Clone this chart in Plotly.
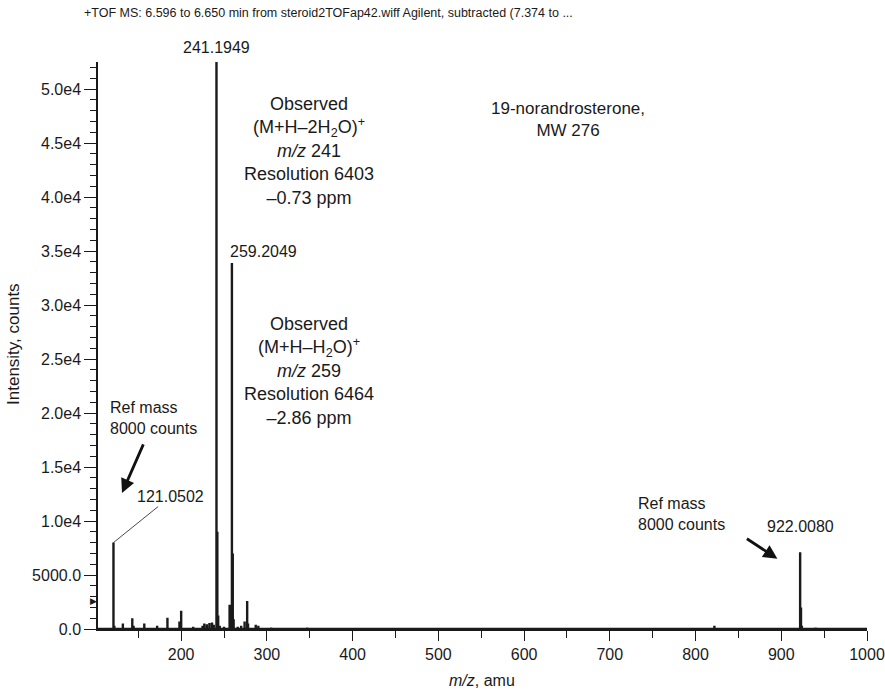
import plotly.graph_objects as go

# ---- data ----
peak_mz = [121.0502, 122.0, 132.0, 143.0, 144.5, 157.0, 172.0, 184.0, 198.0, 200.0,
           214.0, 225.0, 227.0, 230.0, 233.0, 236.0, 238.0, 241.1949, 242.2, 243.2,
           245.0, 250.0, 256.5, 259.2049, 260.2, 261.2, 266.0, 270.0, 274.0, 277.0,
           278.0, 287.0, 290.0, 822.0, 922.0080, 923.0, 924.0]
peak_int = [8000, 300, 500, 1000, 300, 500, 300, 1050, 700, 1700,
            200, 300, 500, 450, 550, 600, 400, 52500, 9000, 1250,
            300, 200, 2250, 33900, 7000, 900, 200, 300, 700, 2600,
            500, 400, 300, 300, 7100, 2000, 300]
noise_mz = [305, 318, 333, 347, 362, 380, 395, 410, 428, 445, 462, 480, 497, 515,
            533, 550, 568, 585, 603, 620, 640, 655, 672, 690, 707, 725, 742, 760,
            778, 795, 812, 840, 858, 875, 890, 905, 940, 955, 970, 985]
noise_int = [150, 120, 100, 130, 90, 110, 100, 120, 90, 100, 110, 90, 100, 120,
             90, 100, 110, 90, 100, 90, 110, 100, 90, 100, 110, 90, 100, 110,
             90, 100, 120, 110, 90, 100, 120, 110, 150, 110, 90, 100]
x_range = [103, 1000]
y_range = [0, 52500]
threshold = 2550

x_ticks = [200, 300, 400, 500, 600, 700, 800, 900, 1000]
x_ticktext = ["200", "300", "400", "500", "600", "700", "800", "900", "1000"]
y_ticks = [0, 5000, 10000, 15000, 20000, 25000, 30000, 35000, 40000, 45000, 50000]
y_ticktext = ["0.0", "5000.0", "1.0e4", "1.5e4", "2.0e4", "2.5e4", "3.0e4",
              "3.5e4", "4.0e4", "4.5e4", "5.0e4"]

title_text = "+TOF MS: 6.596 to 6.650 min from steroid2TOFap42.wiff Agilent, subtracted (7.374 to ..."

# ---- build stick spectrum ----
pts = sorted(list(zip(peak_mz, peak_int)) + list(zip(noise_mz, noise_int)))
xs = [x_range[0]]
ys = [0]
for m, h in pts:
    xs += [m, m, m]
    ys += [0, h, 0]
xs.append(x_range[1])
ys.append(0)

FONT = "Liberation Sans, Arial, sans-serif"
INK = "#1a1a1a"

fig = go.Figure()
fig.add_trace(go.Scatter(x=xs, y=ys, mode="lines",
                         line=dict(color=INK, width=2.4), hoverinfo="skip",
                         showlegend=False))

ann = []
# peak labels
ann.append(dict(x=peak_mz[17], y=peak_int[17], text="241.1949", showarrow=False,
                yanchor="bottom", xanchor="center", yshift=4))
ann.append(dict(x=peak_mz[23], y=peak_int[23], text="259.2049", showarrow=False,
                yanchor="bottom", xanchor="left", xshift=-4, yshift=1))
ann.append(dict(x=peak_mz[34], y=peak_int[34], text="922.0080", showarrow=False,
                yanchor="bottom", xanchor="center", yshift=15))
# leader line to 121.0502
ann.append(dict(x=peak_mz[0], y=peak_int[0], text="121.0502", showarrow=True,
                arrowhead=0, arrowwidth=0.8, arrowcolor=INK, ax=57, ay=-46,
                standoff=0))
# "Ref mass" texts
ann.append(dict(x=114.5, y=19500, text="Ref mass<br>8000 counts", showarrow=False,
                xanchor="left", yanchor="middle", align="left"))
ann.append(dict(x=731, y=10650, text="Ref mass<br>8000 counts", showarrow=False,
                xanchor="left", yanchor="middle", align="left"))
# arrows
ann.append(dict(x=131, y=12600, text="", showarrow=True, arrowhead=2, arrowsize=1,
                arrowwidth=2.8, arrowcolor="#111", ax=22, ay=-50))
ann.append(dict(x=895.5, y=6500, text="", showarrow=True, arrowhead=2, arrowsize=1,
                arrowwidth=2.8, arrowcolor="#111", ax=-32, ay=-21))
# observed blocks
ann.append(dict(x=349, y=44300, showarrow=False, align="center",
                text="Observed<br>(M+H–2H<sub>2</sub>O)<sup>+</sup><br><i>m/z</i> 241"
                     "<br>Resolution 6403<br>–0.73 ppm",
                font=dict(size=18)))
ann.append(dict(x=349, y=23900, showarrow=False, align="center",
                text="Observed<br>(M+H–H<sub>2</sub>O)<sup>+</sup><br><i>m/z</i> 259"
                     "<br>Resolution 6464<br>–2.86 ppm",
                font=dict(size=18)))
ann.append(dict(x=651.5, y=47200, showarrow=False, align="center",
                text="19-norandrosterone,<br>MW 276", font=dict(size=17)))
# threshold marker on y axis
ann.append(dict(x=x_range[0], y=threshold, text="▶", showarrow=False,
                xanchor="right", yanchor="middle", xshift=1,
                font=dict(size=9, color=INK)))
# title
ann.append(dict(x=-0.0208, y=1.086, xref="paper", yref="paper", text=title_text,
                showarrow=False, xanchor="left", yanchor="middle",
                font=dict(size=12.5)))
# axis titles
ann.append(dict(x=-0.109, y=0.503, xref="paper", yref="paper",
                text="Intensity, counts", showarrow=False, textangle=-90,
                xanchor="center", yanchor="middle", font=dict(size=17)))
ann.append(dict(x=0.499, y=-0.09, xref="paper", yref="paper",
                text="<i>m/z</i>, amu", showarrow=False,
                xanchor="center", yanchor="middle", font=dict(size=16)))

for a in ann:
    a.setdefault("xref", "x")
    a.setdefault("yref", "y")
    f = a.setdefault("font", {})
    f.setdefault("size", 16)
    f.setdefault("family", FONT)
    f.setdefault("color", INK)

fig.update_layout(
    width=885, height=691,
    margin=dict(l=98, r=18, t=62, b=62),
    paper_bgcolor="white", plot_bgcolor="white",
    font=dict(family=FONT, size=16, color=INK),
    annotations=ann,
    xaxis=dict(range=x_range, showgrid=False, zeroline=False, showline=True,
               automargin=False,
               linecolor=INK, linewidth=1.5, ticks="outside", ticklen=10,
               tickwidth=1, tickcolor=INK, tickvals=x_ticks, ticktext=x_ticktext,
               minor=dict(tickmode="linear", tick0=0, dtick=50, ticks="outside",
                          ticklen=7, tickcolor=INK, showgrid=False),
               tickfont=dict(size=16)),
    yaxis=dict(range=y_range, showgrid=False, zeroline=False, showline=True,
               automargin=False,
               linecolor=INK, linewidth=1.5, ticks="outside", ticklen=12,
               tickwidth=1, tickcolor=INK, tickvals=y_ticks, ticktext=y_ticktext,
               minor=dict(tickmode="linear", tick0=0, dtick=1000, ticks="outside",
                          ticklen=6, tickcolor=INK, showgrid=False),
               tickfont=dict(size=16)),
)

# remove the page's default body margin so the figure fills the window exactly
fig.write_html("out.html",
               config={"displayModeBar": False},
               post_script="document.body.style.margin='0px';"
                           "document.documentElement.style.overflow='hidden';")
